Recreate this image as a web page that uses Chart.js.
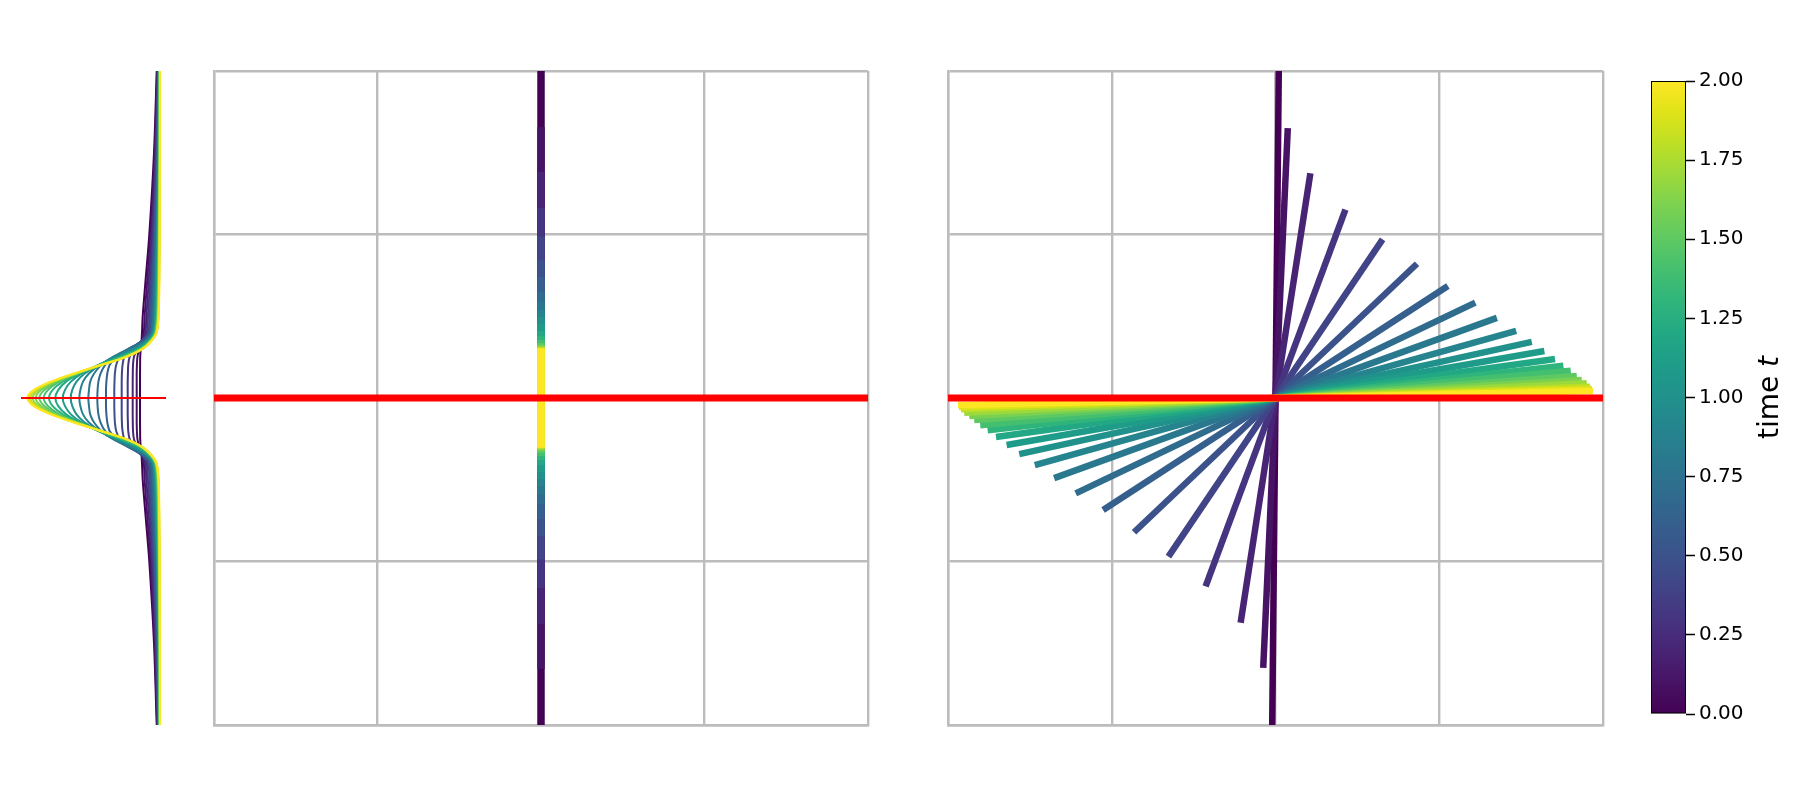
<!DOCTYPE html>
<html>
<head>
<meta charset="utf-8">
<title>Rod rotation</title>
<script src="https://cdn.jsdelivr.net/npm/chart.js@4.4.1/dist/chart.umd.min.js"></script>
<style>
    body { margin: 0; background: #ffffff; }
    #stage { position: relative; width: 1800px; height: 800px; overflow: hidden; }
    #stage canvas { position: absolute; }
</style>
</head>
<body>
<div id="stage">
    <canvas id="profileChart" width="157" height="666" style="left:15px; top:65px;"></canvas>
    <canvas id="middleChart" width="666" height="666" style="left:208px; top:65px;"></canvas>
    <canvas id="rodChart" width="667" height="666" style="left:942px; top:65px;"></canvas>
    <canvas id="colorbarChart" width="179" height="665" style="left:1647px; top:65px;"></canvas>
</div>
<script>
// Time steps, one colour each (viridis sampled at t / 2)
const timeSteps = [0.0, 0.1, 0.2, 0.3, 0.4, 0.5, 0.6, 0.7, 0.8, 0.9, 1.0,
                   1.1, 1.2, 1.3, 1.4, 1.5, 1.6, 1.7, 1.8, 1.9, 2.0];
const viridis = ['#440154', '#471365', '#482475', '#463480', '#414487', '#3b528b',
                 '#355f8d', '#2f6c8e', '#2a788e', '#25848e', '#21918c', '#1e9c89',
                 '#22a884', '#2fb47c', '#44bf70', '#5ec962', '#7ad151', '#9bd93c',
                 '#bddf26', '#dfe318', '#fde725'];

// Middle panel: half length of the vertical segment at each time
const middleHalfLength = [2.0, 1.657, 1.382, 1.162, 0.988, 0.844, 0.740, 0.651, 0.590, 0.538, 0.495,
                          0.453, 0.410, 0.379, 0.355, 0.336, 0.324, 0.315, 0.310, 0.307, 0.304];

// Right panel: upper end of each rod (lower end is the mirror through the origin)
const rodTipX = [0.020, 0.075, 0.213, 0.427, 0.654, 0.864, 1.053, 1.220, 1.352, 1.470, 1.565,
                 1.642, 1.707, 1.758, 1.803, 1.840, 1.870, 1.901, 1.921, 1.933, 1.939];
const rodTipY = [2.000, 1.651, 1.374, 1.152, 0.970, 0.821, 0.685, 0.583, 0.490, 0.410, 0.343,
                 0.287, 0.238, 0.197, 0.166, 0.134, 0.110, 0.090, 0.069, 0.055, 0.043];

// Left panel: profile value at these heights (curves are symmetric about y = 0)
const profileY = [0, 0.05, 0.1, 0.15, 0.2, 0.25, 0.3, 0.35, 0.4, 0.5, 0.7, 1.0, 1.5, 2.0];
const profileX = [
    [1.190, 1.190, 1.190, 1.190, 1.191, 1.192, 1.197, 1.205, 1.210, 1.217, 1.243, 1.283, 1.330, 1.357], // t = 0.0
    [1.157, 1.157, 1.157, 1.157, 1.159, 1.164, 1.182, 1.210, 1.228, 1.236, 1.260, 1.296, 1.337, 1.361],
    [1.117, 1.117, 1.117, 1.118, 1.120, 1.129, 1.161, 1.212, 1.244, 1.253, 1.276, 1.307, 1.344, 1.364],
    [1.067, 1.067, 1.067, 1.069, 1.072, 1.086, 1.134, 1.210, 1.258, 1.269, 1.290, 1.317, 1.350, 1.368],
    [1.007, 1.007, 1.007, 1.009, 1.015, 1.033, 1.099, 1.205, 1.272, 1.284, 1.302, 1.327, 1.355, 1.371],
    [0.933, 0.933, 0.935, 0.939, 0.951, 0.986, 1.080, 1.213, 1.283, 1.297, 1.313, 1.335, 1.360, 1.373], // t = 0.5
    [0.850, 0.850, 0.854, 0.863, 0.885, 0.948, 1.072, 1.223, 1.294, 1.308, 1.323, 1.342, 1.364, 1.376],
    [0.763, 0.766, 0.774, 0.796, 0.839, 0.925, 1.076, 1.232, 1.302, 1.317, 1.332, 1.348, 1.368, 1.378],
    [0.673, 0.680, 0.692, 0.731, 0.801, 0.916, 1.088, 1.248, 1.311, 1.327, 1.340, 1.355, 1.371, 1.380],
    [0.583, 0.594, 0.620, 0.679, 0.782, 0.922, 1.113, 1.260, 1.319, 1.335, 1.347, 1.360, 1.374, 1.381],
    [0.497, 0.513, 0.555, 0.637, 0.770, 0.952, 1.142, 1.266, 1.324, 1.341, 1.353, 1.364, 1.377, 1.383], // t = 1.0
    [0.417, 0.440, 0.499, 0.609, 0.764, 0.965, 1.157, 1.276, 1.330, 1.348, 1.358, 1.368, 1.379, 1.384],
    [0.343, 0.373, 0.452, 0.591, 0.770, 0.988, 1.176, 1.285, 1.335, 1.353, 1.362, 1.371, 1.381, 1.385],
    [0.280, 0.317, 0.418, 0.577, 0.778, 1.000, 1.191, 1.286, 1.339, 1.357, 1.367, 1.374, 1.383, 1.386],
    [0.227, 0.271, 0.383, 0.561, 0.785, 1.008, 1.198, 1.298, 1.343, 1.361, 1.370, 1.377, 1.384, 1.387],
    [0.183, 0.236, 0.369, 0.567, 0.800, 1.032, 1.207, 1.300, 1.346, 1.365, 1.374, 1.379, 1.386, 1.388], // t = 1.5
    [0.147, 0.203, 0.345, 0.556, 0.796, 1.037, 1.211, 1.301, 1.349, 1.369, 1.376, 1.382, 1.387, 1.388],
    [0.117, 0.176, 0.327, 0.549, 0.796, 1.043, 1.212, 1.302, 1.352, 1.371, 1.378, 1.383, 1.388, 1.389],
    [0.093, 0.155, 0.314, 0.541, 0.793, 1.045, 1.214, 1.303, 1.354, 1.373, 1.381, 1.385, 1.389, 1.389],
    [0.077, 0.141, 0.304, 0.534, 0.790, 1.046, 1.215, 1.304, 1.355, 1.375, 1.382, 1.386, 1.389, 1.390],
    [0.063, 0.128, 0.296, 0.529, 0.788, 1.046, 1.214, 1.305, 1.357, 1.377, 1.383, 1.387, 1.390, 1.390]  // t = 2.0
];

// Colour bar ticks
const colorbarTicks = [0, 0.25, 0.5, 0.75, 1.0, 1.25, 1.5, 1.75, 2.0];

const gridColor = '#bcbcbc';
const axisRed = '#ff0000';

/**
 * Shared square axis for the two big panels: -2..2, grid every 1, no labels
 */
function panelScale() {
    return {
        type: 'linear',
        min: -2,
        max: 2,
        ticks: { display: false, stepSize: 1 },
        grid: { color: gridColor, lineWidth: 2.4, drawTicks: false },
        border: { color: gridColor, width: 2.4 }
    };
}

function redLine(xMin, xMax, width) {
    return {
        data: [{ x: xMin, y: 0 }, { x: xMax, y: 0 }],
        borderColor: axisRed,
        borderWidth: width,
        showLine: true,
        pointRadius: 0,
        order: 0
    };
}

function baseOptions(scales) {
    return {
        responsive: false,
        animation: false,
        events: [],
        layout: { autoPadding: false, padding: 6 },
        elements: { point: { radius: 0 } },
        plugins: { legend: { display: false }, tooltip: { enabled: false } },
        scales: scales
    };
}

/**
 * Left profile: one curve per time step, mirrored about y = 0
 */
function initProfileChart() {
    const datasets = profileX.map((values, i) => {
        const points = [];
        for (let k = profileY.length - 1; k >= 0; k--) {
            points.push({ x: values[k], y: -profileY[k] });
        }
        for (let k = 1; k < profileY.length; k++) {
            points.push({ x: values[k], y: profileY[k] });
        }
        return {
            data: points,
            borderColor: viridis[i],
            borderWidth: 2,
            showLine: true,
            tension: 0.3,
            pointRadius: 0,
            order: timeSteps.length - i
        };
    });
    datasets.push(redLine(0, 1.45, 2));

    new Chart(document.getElementById('profileChart'), {
        type: 'scatter',
        data: { datasets: datasets },
        options: baseOptions({
            x: { type: 'linear', display: false, min: 0, max: 1.45 },
            y: { type: 'linear', display: false, min: -2, max: 2 }
        })
    });
}

/**
 * Middle panel: vertical segments shrinking with time
 */
function initMiddleChart() {
    const datasets = middleHalfLength.map((len, i) => ({
        data: [{ x: 0, y: -len }, { x: 0, y: len }],
        borderColor: viridis[i],
        borderWidth: 7.5,
        borderCapStyle: 'butt',
        showLine: true,
        pointRadius: 0,
        order: timeSteps.length - i
    }));
    datasets.push(redLine(-2, 2, 7));

    new Chart(document.getElementById('middleChart'), {
        type: 'scatter',
        data: { datasets: datasets },
        options: baseOptions({ x: panelScale(), y: panelScale() })
    });
}

/**
 * Right panel: rods through the origin turning towards the x axis
 */
function initRodChart() {
    const datasets = rodTipX.map((tipX, i) => ({
        data: [{ x: -tipX, y: -rodTipY[i] }, { x: tipX, y: rodTipY[i] }],
        borderColor: viridis[i],
        borderWidth: 6.5,
        borderCapStyle: 'butt',
        showLine: true,
        pointRadius: 0,
        order: timeSteps.length - i
    }));
    datasets.push(redLine(-2, 2, 7));

    new Chart(document.getElementById('rodChart'), {
        type: 'scatter',
        data: { datasets: datasets },
        options: baseOptions({ x: panelScale(), y: panelScale() })
    });
}

// Draws the rotated "time t" label with an italic t
const colorbarLabel = {
    id: 'colorbarLabel',
    afterDraw(chart) {
        const ctx = chart.ctx;
        const normalFont = '28px "DejaVu Sans"';
        const italicFont = 'italic 28px "DejaVu Sans"';
        ctx.save();
        ctx.translate(124, (chart.chartArea.top + chart.chartArea.bottom) / 2);
        ctx.rotate(-Math.PI / 2);
        ctx.fillStyle = '#000000';
        ctx.textBaseline = 'middle';
        ctx.font = normalFont;
        const w1 = ctx.measureText('time ').width;
        ctx.font = italicFont;
        const w2 = ctx.measureText('t').width;
        let x = -(w1 + w2) / 2;
        ctx.font = normalFont;
        ctx.textAlign = 'left';
        ctx.fillText('time ', x, 0);
        ctx.font = italicFont;
        ctx.fillText('t', x + w1, 0);
        ctx.restore();
    }
};

/**
 * Colour bar: one floating bar filled with the viridis gradient
 */
function initColorbar() {
    new Chart(document.getElementById('colorbarChart'), {
        type: 'bar',
        data: {
            labels: ['t'],
            datasets: [{
                data: [[timeSteps[0], timeSteps[timeSteps.length - 1]]],
                backgroundColor: function(context) {
                    const area = context.chart.chartArea;
                    if (!area) {
                        return viridis[0];
                    }
                    const g = context.chart.ctx.createLinearGradient(0, area.bottom, 0, area.top);
                    viridis.forEach((c, i) => g.addColorStop(i / (viridis.length - 1), c));
                    return g;
                },
                borderColor: '#000000',
                borderWidth: 1.3,
                borderSkipped: false,
                barPercentage: 1,
                categoryPercentage: 1
            }]
        },
        options: {
            responsive: false,
            animation: false,
            events: [],
            layout: { autoPadding: false, padding: { left: 4, right: 0, top: 14, bottom: 14 } },
            plugins: { legend: { display: false }, tooltip: { enabled: false } },
            scales: {
                x: { display: false },
                y: {
                    position: 'right',
                    min: 0,
                    max: 2,
                    afterBuildTicks: function(scale) {
                        scale.ticks = colorbarTicks.map(v => ({ value: v }));
                    },
                    afterFit: function(scale) {
                        scale.width = 140;
                    },
                    ticks: {
                        padding: 4,
                        color: '#000000',
                        font: { family: 'DejaVu Sans', size: 20 },
                        callback: function(value) {
                            return Number(value).toFixed(2);
                        }
                    },
                    grid: {
                        drawOnChartArea: false,
                        drawTicks: true,
                        tickLength: 9,
                        tickColor: '#000000',
                        tickWidth: 1.5
                    },
                    border: { display: false }
                }
            }
        },
        plugins: [colorbarLabel]
    });
}

function initAllCharts() {
    initProfileChart();
    initMiddleChart();
    initRodChart();
    initColorbar();
}

if (document.readyState === 'loading') {
    document.addEventListener('DOMContentLoaded', initAllCharts);
} else {
    initAllCharts();
}
</script>
</body>
</html>
